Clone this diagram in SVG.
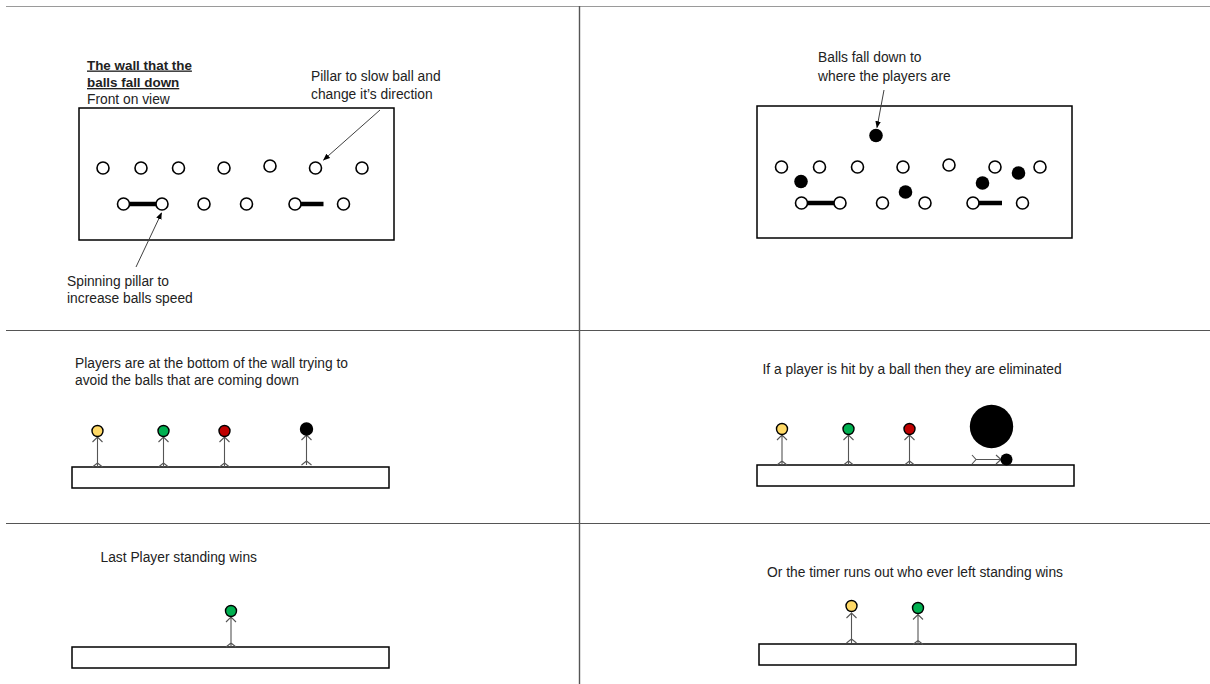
<svg xmlns="http://www.w3.org/2000/svg" width="1210" height="684" viewBox="0 0 1210 684">
  <style>
    .txt { font-family: "Liberation Sans", Arial, sans-serif; font-size: 13.8px; fill: #222; }
    .title { font-weight: bold; text-decoration: underline; font-size: 13.4px; }
    .frame { fill: #fff; stroke: #000; stroke-width: 1.5; }
    .peg { fill: #fff; stroke: #000; stroke-width: 1.6; }
    .ball { fill: #000; }
    .bar { stroke: #000; stroke-width: 4.5; }
    .pointer { stroke: #404040; stroke-width: 1; fill: none; marker-end: url(#tip); }
    .limb { stroke: #555; stroke-width: 1.1; fill: none; }
    .head { stroke: #000; stroke-width: 1.4; }
    .yellow { fill: #FFD966; }
    .green { fill: #00B050; }
    .red { fill: #C00000; }
    .black { fill: #000; }
  </style>
  <defs>
    <marker id="tip" viewBox="0 0 10 10" refX="9" refY="5" markerWidth="7" markerHeight="7" orient="auto" markerUnits="userSpaceOnUse">
      <path d="M0,1 L10,5 L0,9 Z" fill="#000"/>
    </marker>
    <!-- standing stick figure body, origin at head centre -->
    <path id="stick" d="M-5,11 L0,6 L5,11 M0,5.5 V36 M-5,36 L0,32 L5,36"/>
  </defs>

  <!-- panel grid -->
  <g id="grid">
    <line x1="6" y1="6.5" x2="1210" y2="6.5" stroke="#9a9a9a" stroke-width="1.2"/>
    <line x1="6" y1="330.5" x2="1210" y2="330.5" stroke="#555" stroke-width="1.1"/>
    <line x1="6" y1="523.5" x2="1210" y2="523.5" stroke="#555" stroke-width="1.1"/>
    <line x1="579.5" y1="6" x2="579.5" y2="684" stroke="#555" stroke-width="1.4"/>
  </g>

  <!-- panel 1: front view of the wall -->
  <g id="wall-front">
    <rect class="frame" x="79" y="108" width="315" height="132"/>
    <circle class="peg" cx="103" cy="168" r="6"/>
    <circle class="peg" cx="141" cy="168" r="6"/>
    <circle class="peg" cx="178.5" cy="168" r="6"/>
    <circle class="peg" cx="224" cy="168" r="6"/>
    <circle class="peg" cx="270" cy="166" r="6"/>
    <circle class="peg" cx="315.5" cy="168" r="6"/>
    <circle class="peg" cx="362" cy="168" r="6"/>
    <line class="bar" x1="129" y1="204" x2="156.5" y2="204"/>
    <line class="bar" x1="301" y1="204" x2="323.5" y2="204"/>
    <circle class="peg" cx="123.5" cy="204" r="6"/>
    <circle class="peg" cx="162" cy="204" r="6"/>
    <circle class="peg" cx="204" cy="204" r="6"/>
    <circle class="peg" cx="246.5" cy="204" r="6"/>
    <circle class="peg" cx="295" cy="204" r="6"/>
    <circle class="peg" cx="343.5" cy="204" r="6"/>
  </g>
  <g id="wall-front-labels">
    <text class="txt title" x="87" y="69.5">The wall that the</text>
    <text class="txt title" x="87" y="87">balls fall down</text>
    <text class="txt" x="87" y="104">Front on view</text>
    <text class="txt" x="311" y="81">Pillar to slow ball and</text>
    <text class="txt" x="311" y="99">change it’s direction</text>
    <text class="txt" x="67" y="285.5">Spinning pillar to</text>
    <text class="txt" x="67" y="303">increase balls speed</text>
  </g>

  <!-- panel 2: balls falling through the wall -->
  <g id="wall-falling">
    <rect class="frame" x="757" y="106" width="315" height="132"/>
    <circle class="peg" cx="781.5" cy="167" r="6"/>
    <circle class="peg" cx="819.5" cy="167" r="6"/>
    <circle class="peg" cx="857.5" cy="167" r="6"/>
    <circle class="peg" cx="903" cy="167" r="6"/>
    <circle class="peg" cx="949" cy="165" r="6"/>
    <circle class="peg" cx="995" cy="167" r="6"/>
    <circle class="peg" cx="1040" cy="167" r="6"/>
    <line class="bar" x1="807" y1="203" x2="835" y2="203"/>
    <line class="bar" x1="979" y1="203" x2="1002" y2="203"/>
    <circle class="peg" cx="801.5" cy="203" r="6"/>
    <circle class="peg" cx="840" cy="203" r="6"/>
    <circle class="peg" cx="882.5" cy="203" r="6"/>
    <circle class="peg" cx="925" cy="203" r="6"/>
    <circle class="peg" cx="973" cy="203" r="6"/>
    <circle class="peg" cx="1022.5" cy="203" r="6"/>
    <circle class="ball" cx="876" cy="135.5" r="6.8"/>
    <circle class="ball" cx="801" cy="181.5" r="6.8"/>
    <circle class="ball" cx="905.5" cy="192" r="6.8"/>
    <circle class="ball" cx="982.5" cy="183" r="6.8"/>
    <circle class="ball" cx="1018.5" cy="173" r="6.8"/>
  </g>
  <g id="wall-falling-labels">
    <text class="txt" x="818" y="62">Balls fall down to</text>
    <text class="txt" x="818" y="80.5">where the players are</text>
  </g>

  <!-- panel 3: players at the foot of the wall -->
  <g id="players">
    <rect class="frame" x="72" y="467" width="317" height="21"/>
    <use href="#stick" class="limb" x="97.5" y="431"/>
    <use href="#stick" class="limb" x="163.5" y="431"/>
    <use href="#stick" class="limb" x="224.5" y="431"/>
    <use href="#stick" class="limb" x="306.5" y="429"/>
    <circle class="head yellow" cx="97.5" cy="431" r="5.5"/>
    <circle class="head green" cx="163.5" cy="431" r="5.5"/>
    <circle class="head red" cx="224.5" cy="431" r="5.5"/>
    <circle class="head black" cx="306.5" cy="429" r="6"/>
    <text class="txt" x="75" y="367.5">Players are at the bottom of the wall trying to</text>
    <text class="txt" x="75" y="385">avoid the balls that are coming down</text>
  </g>

  <!-- panel 4: a player hit by a ball -->
  <g id="elimination">
    <rect class="frame" x="757" y="465" width="317" height="21"/>
    <use href="#stick" class="limb" x="782" y="429"/>
    <use href="#stick" class="limb" x="848.5" y="429"/>
    <use href="#stick" class="limb" x="909.5" y="429"/>
    <circle class="head yellow" cx="782" cy="429" r="5.5"/>
    <circle class="head green" cx="848.5" cy="429" r="5.5"/>
    <circle class="head red" cx="909.5" cy="429" r="5.5"/>
    <!-- knocked-down figure lying on the floor -->
    <path class="limb" d="M972,455 L976,459.5 L972,464 M975.5,459.5 H1001 M996,455 L1001,459.5 L996,464"/>
    <circle class="ball" cx="1006.5" cy="459.5" r="6"/>
    <circle class="ball" cx="991.5" cy="426.5" r="21.7"/>
    <text class="txt" x="762.5" y="373.5">If a player is hit by a ball then they are eliminated</text>
  </g>

  <!-- panel 5: single winner -->
  <g id="last-standing">
    <rect class="frame" x="72" y="647" width="317" height="21"/>
    <use href="#stick" class="limb" x="231" y="611"/>
    <circle class="head green" cx="231" cy="611" r="5.5"/>
    <text class="txt" x="100.5" y="562">Last Player standing wins</text>
  </g>

  <!-- panel 6: timer runs out -->
  <g id="timer-out">
    <rect class="frame" x="759" y="644" width="317" height="21"/>
    <use href="#stick" class="limb" x="851.5" y="607"/>
    <use href="#stick" class="limb" x="918" y="608.5"/>
    <circle class="head yellow" cx="851.5" cy="606" r="5.5"/>
    <circle class="head green" cx="918" cy="608" r="5.5"/>
    <text class="txt" x="767" y="577">Or the timer runs out who ever left standing wins</text>
  </g>

  <!-- pointer arrows -->
  <g id="connectors">
    <line class="pointer" x1="380" y1="110" x2="323.5" y2="160"/>
    <line class="pointer" x1="136" y1="267" x2="161.5" y2="213"/>
    <line class="pointer" x1="884" y1="90" x2="877" y2="127.5"/>
  </g>
</svg>
